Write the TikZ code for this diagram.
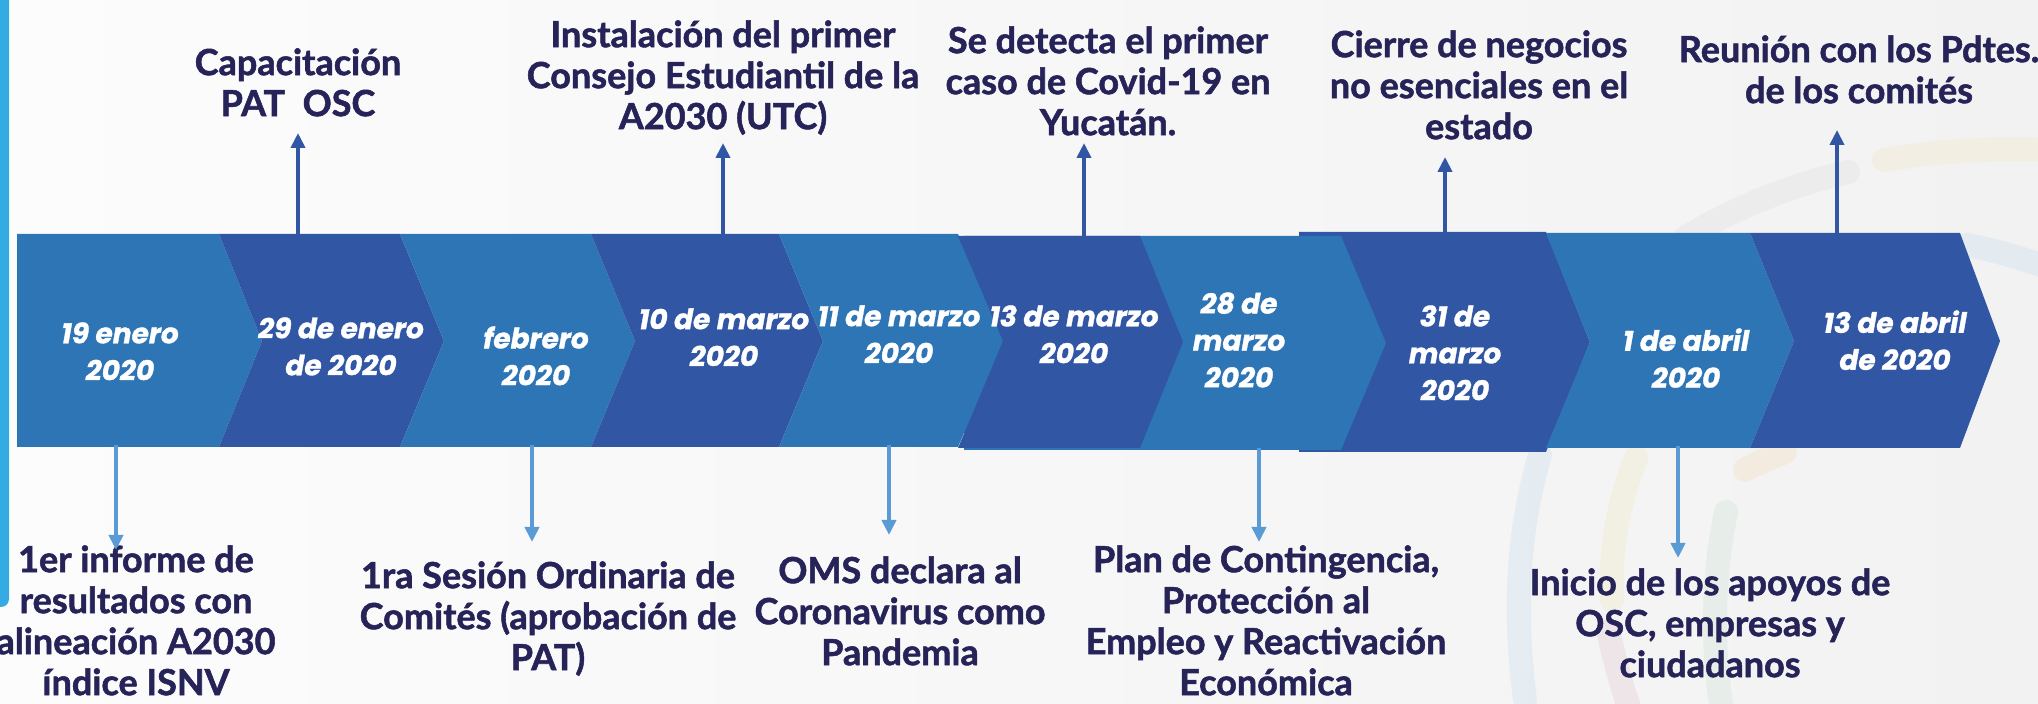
\documentclass[tikz,border=0pt]{standalone}
\usepackage{fontspec}
\setmainfont{Lato}[BoldFeatures={FakeBold=1.5}]
\newfontfamily\datefont{Poppins}[BoldItalicFeatures={FakeBold=1.2}]
\usetikzlibrary{arrows.meta}
\definecolor{segLight}{RGB}{46,117,182}
\definecolor{segDark}{RGB}{49,86,164}
\definecolor{arrowLight}{RGB}{91,155,213}
\definecolor{navyText}{RGB}{38,35,88}
\definecolor{sideBlue}{RGB}{52,171,226}
\definecolor{bgLeft}{RGB}{252,252,252}
\definecolor{bgRight}{RGB}{242,242,242}
\tikzset{
 lightseg/.style={fill=segLight},
 darkseg/.style={fill=segDark},
 datetxt/.style={text=white,font=\datefont\bfseries\itshape\fontsize{14}{18.5}\selectfont,align=center,inner sep=0pt,anchor=north},
 eventtxt/.style={text=navyText,font=\bfseries\fontsize{18}{20.5}\selectfont,align=center,inner sep=0pt,anchor=north},
 uparrow/.style={draw=segDark,line width=2.2pt,-{Triangle[width=7pt,length=7.5pt]}},
 downarrow/.style={draw=arrowLight,line width=2.2pt,-{Triangle[width=7pt,length=7.5pt]}},
 ring/.style={line width=12pt,line cap=round,opacity=0.55}
}
\begin{document}
\begin{tikzpicture}[x=0.5pt,y=-0.5pt]
 \useasboundingbox (0,0) rectangle (2038,704);
 \shade[left color=bgLeft,right color=bgRight] (0,0) rectangle (2038,704);
 \draw[ring,draw={rgb,255:red,216;green,230;blue,241}] (1540,455) .. controls (1515,540) and (1515,620) .. (1525,700);
 \draw[ring,draw={rgb,255:red,242;green,235;blue,214}] (1636,458) .. controls (1615,510) and (1610,560) .. (1612,600);
 \draw[ring,draw={rgb,255:red,221;green,233;blue,223}] (1726,512) .. controls (1712,580) and (1712,650) .. (1722,710);
 \draw[ring,draw={rgb,255:red,234;green,218;blue,224}] (1608,631) .. controls (1615,660) and (1622,690) .. (1632,715);
 \draw[ring,draw={rgb,255:red,231;green,231;blue,231}] (1848,172) .. controls (1790,185) and (1730,210) .. (1685,238);
 \draw[ring,draw={rgb,255:red,242;green,235;blue,214}] (1884,160) .. controls (1940,150) and (2000,148) .. (2050,150);
 \draw[ring,draw={rgb,255:red,216;green,230;blue,241}] (1966,245) .. controls (1995,250) and (2020,258) .. (2050,268);
 \draw[ring,draw={rgb,255:red,244;green,228;blue,210}] (1785,452) .. controls (1770,458) and (1755,464) .. (1745,470);
 \fill[sideBlue,rounded corners=4pt] (-10,-10) rectangle (9,607);
 \fill[darkseg] (1299,232)--(1546,232)--(1590,342)--(1546,452)--(1299,452)--cycle;
 \fill[lightseg] (964,236)--(1341,236)--(1386,343)--(1341,450)--(964,450)--cycle;
 \fill[lightseg] (17,234)--(219,234)--(262,341)--(219,447)--(17,447)--cycle;
 \fill[darkseg] (219,234)--(400,234)--(444,341)--(400,447)--(219,447)--(262,341)--cycle;
 \fill[lightseg] (400,234)--(591,234)--(635,341)--(591,447)--(400,447)--(444,341)--cycle;
 \fill[darkseg] (591,234)--(779,234)--(823,341)--(779,447)--(591,447)--(635,341)--cycle;
 \fill[lightseg] (779,234)--(958,234)--(1003,341)--(958,447)--(779,447)--(823,341)--cycle;
 \fill[darkseg] (958,236)--(1140,236)--(1183,342)--(1140,448)--(958,448)--(1003,341)--cycle;
 \fill[lightseg] (1546,233)--(1750,233)--(1794,341)--(1750,448)--(1546,448)--(1590,342)--cycle;
 \fill[darkseg] (1750,233)--(1960,233)--(2000,341)--(1960,448)--(1750,448)--(1794,341)--cycle;
 \node[datetxt] (ene19) at (120,322) {19 enero\\2020};
 \node[datetxt] (ene29) at (341,317) {29 de enero\\de 2020};
 \node[datetxt] (feb) at (536,326) {febrero\\2020};
 \node[datetxt] (mar10) at (724,308) {10 de marzo\\2020};
 \node[datetxt] (mar11) at (899,305) {11 de marzo\\2020};
 \node[datetxt] (mar13) at (1074,305) {13 de marzo\\2020};
 \node[datetxt] (mar28) at (1239,292) {28 de\\marzo\\2020};
 \node[datetxt] (mar31) at (1455,305) {31 de\\marzo\\2020};
 \node[datetxt] (abr1) at (1686,328) {1 de abril\\2020};
 \node[datetxt] (abr13) at (1895,310) {13 de abril\\de 2020};
 \node[eventtxt] (cap) at (298,48) {Capacitación\\PAT\ \ OSC};
 \node[eventtxt] (inst) at (723,20) {Instalación del primer\\Consejo Estudiantil de la\\A2030 (UTC)};
 \node[eventtxt] (covid) at (1108,26) {Se detecta el primer\\caso de Covid-19 en\\Yucatán.};
 \node[eventtxt] (cierre) at (1479,30) {Cierre de negocios\\no esenciales en el\\estado};
 \node[eventtxt] (reun) at (1859,35) {Reunión con los Pdtes.\\de los comités};
 \node[eventtxt] (inf) at (136,545) {1er informe de\\resultados con\\alineación A2030\\índice ISNV};
 \node[eventtxt] (ses) at (548,561) {1ra Sesión Ordinaria de\\Comités (aprobación de\\PAT)};
 \node[eventtxt] (oms) at (900,556) {OMS declara al\\Coronavirus como\\Pandemia};
 \node[eventtxt] (plan) at (1266,545) {Plan de Contingencia,\\Protección al\\Empleo y Reactivación\\Económica};
 \node[eventtxt] (apoy) at (1710,568) {Inicio de los apoyos de\\OSC, empresas y\\ciudadanos};
 \coordinate (capBase) at (298,234);
 \coordinate (capTip) at (298,133);
 \coordinate (instBase) at (723,234);
 \coordinate (instTip) at (723,143);
 \coordinate (covidBase) at (1084,236);
 \coordinate (covidTip) at (1084,143);
 \coordinate (cierreBase) at (1445,232);
 \coordinate (cierreTip) at (1445,157);
 \coordinate (reunBase) at (1837,233);
 \coordinate (reunTip) at (1837,130);
 \coordinate (infBase) at (116,445);
 \coordinate (infTip) at (116,550);
 \coordinate (sesBase) at (532,445);
 \coordinate (sesTip) at (532,542);
 \coordinate (omsBase) at (889,445);
 \coordinate (omsTip) at (889,535);
 \coordinate (planBase) at (1259,448);
 \coordinate (planTip) at (1259,542);
 \coordinate (apoyBase) at (1678,446);
 \coordinate (apoyTip) at (1678,558);
 \draw[uparrow] (capBase) -- (capTip);
 \draw[uparrow] (instBase) -- (instTip);
 \draw[uparrow] (covidBase) -- (covidTip);
 \draw[uparrow] (cierreBase) -- (cierreTip);
 \draw[uparrow] (reunBase) -- (reunTip);
 \draw[downarrow] (infBase) -- (infTip);
 \draw[downarrow] (sesBase) -- (sesTip);
 \draw[downarrow] (omsBase) -- (omsTip);
 \draw[downarrow] (planBase) -- (planTip);
 \draw[downarrow] (apoyBase) -- (apoyTip);
\end{tikzpicture}
\end{document}
